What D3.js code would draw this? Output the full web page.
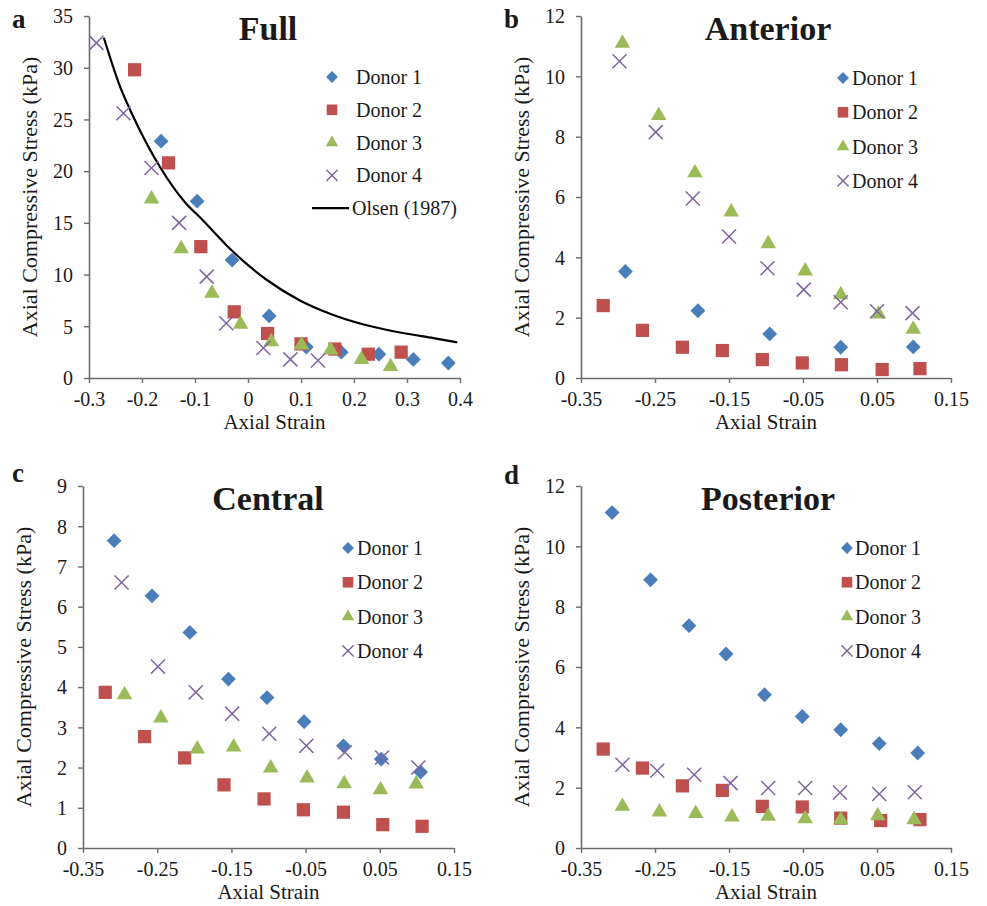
<!DOCTYPE html>
<html><head><meta charset="utf-8">
<script src="https://cdn.jsdelivr.net/npm/d3@7"></script>
<style>
html,body{margin:0;padding:0;background:#fff;}
svg{display:block;}
svg text{font-family:"Liberation Serif","Times New Roman",serif !important;fill:#1a1a1a;}
</style></head>
<body>
<svg id="chart" width="987" height="906"></svg>
<script>
// ---------- Data ----------
const seriesNames = ["Donor 1","Donor 2","Donor 3","Donor 4"];
const fullXTicks = [-0.3,-0.2,-0.1,0,0.1,0.2,0.3,0.4];
const fullYTicks = [0,5,10,15,20,25,30,35];
const regionXTicks = [-0.35,-0.25,-0.15,-0.05,0.05,0.15];
const anteriorYTicks = [0,2,4,6,8,10,12];
const centralYTicks = [0,1,2,3,4,5,6,7,8,9];
const posteriorYTicks = [0,2,4,6,8,10,12];

// Full
const fullDonor1 = [[-0.164,22.9],[-0.096,17.1],[-0.030,11.4],[0.040,6.0],[0.110,3.0],[0.176,2.5],[0.247,2.3],[0.312,1.8],[0.378,1.45]];
const fullDonor2 = [[-0.214,29.8],[-0.150,20.8],[-0.089,12.7],[-0.026,6.4],[0.037,4.3],[0.100,3.3],[0.164,2.8],[0.227,2.3],[0.289,2.5]];
const fullDonor3 = [[-0.182,17.3],[-0.126,12.5],[-0.068,8.2],[-0.014,5.2],[0.044,3.5],[0.101,3.2],[0.156,2.7],[0.214,1.8],[0.269,1.1]];
const fullDonor4 = [[-0.286,32.4],[-0.235,25.6],[-0.182,20.3],[-0.130,15.0],[-0.078,9.8],[-0.041,5.3],[0.029,2.9],[0.080,1.8],[0.132,1.7]];
const olsen1987 = [[-0.272,32.9],[-0.243,28.4],[-0.213,24.9],[-0.166,20.4],[-0.119,17.0],[-0.088,15.4],[-0.028,12.2],[0.035,9.5],[0.098,7.5],[0.161,6.1],[0.224,5.1],[0.287,4.4],[0.35,3.85],[0.395,3.45]];

// Anterior
const antDonor1 = [[-0.290,3.53],[-0.192,2.23],[-0.095,1.46],[0.001,1.02],[0.099,1.03]];
const antDonor2 = [[-0.320,2.40],[-0.267,1.58],[-0.213,1.02],[-0.159,0.91],[-0.105,0.61],[-0.051,0.50],[0.002,0.44],[0.057,0.28],[0.108,0.31]];
const antDonor3 = [[-0.294,11.1],[-0.245,8.7],[-0.196,6.8],[-0.147,5.5],[-0.097,4.45],[-0.047,3.55],[0.001,2.76],[0.052,2.12],[0.099,1.62]];
const antDonor4 = [[-0.298,10.5],[-0.249,8.15],[-0.199,5.95],[-0.150,4.69],[-0.098,3.64],[-0.049,2.93],[0.001,2.51],[0.050,2.21],[0.098,2.15]];

// Central
const cenDonor1 = [[-0.308,7.64],[-0.257,6.27],[-0.206,5.36],[-0.154,4.20],[-0.102,3.74],[-0.052,3.14],[0.001,2.54],[0.052,2.21],[0.105,1.89]];
const cenDonor2 = [[-0.320,3.87],[-0.267,2.77],[-0.213,2.24],[-0.160,1.57],[-0.106,1.22],[-0.053,0.95],[0.001,0.89],[0.054,0.58],[0.107,0.54]];
const cenDonor3 = [[-0.294,3.81],[-0.245,3.23],[-0.196,2.46],[-0.147,2.51],[-0.097,1.99],[-0.048,1.74],[0.002,1.60],[0.051,1.45],[0.099,1.59]];
const cenDonor4 = [[-0.298,6.60],[-0.249,4.51],[-0.198,3.87],[-0.149,3.34],[-0.099,2.84],[-0.049,2.54],[0.003,2.38],[0.053,2.25],[0.102,2.00]];

// Posterior
const posDonor1 = [[-0.308,11.12],[-0.256,8.89],[-0.204,7.37],[-0.154,6.43],[-0.102,5.08],[-0.051,4.36],[0.001,3.92],[0.053,3.46],[0.105,3.15]];
const posDonor2 = [[-0.320,3.28],[-0.267,2.65],[-0.213,2.06],[-0.159,1.91],[-0.105,1.38],[-0.051,1.36],[0.001,0.99],[0.055,0.91],[0.108,0.94]];
const posDonor3 = [[-0.294,1.38],[-0.244,1.19],[-0.195,1.14],[-0.146,1.03],[-0.097,1.05],[-0.047,0.97],[0.001,0.94],[0.051,1.07],[0.100,0.94]];
const posDonor4 = [[-0.294,2.76],[-0.247,2.56],[-0.197,2.43],[-0.148,2.15],[-0.097,1.99],[-0.047,1.99],[0.000,1.84],[0.053,1.79],[0.101,1.85]];

// ---------- Styles ----------
const colors = ["#4a7ebb","#c0504d","#9bbb59","#8064a2"];
const serif = '"Liberation Serif","Times New Roman",serif';
const svg = d3.select("#chart");

function marker(g, i, x, y, scale){
  const s = scale || 1;
  if(i===0){
    g.append("path").attr("d", d3.symbol(d3.symbolSquare, 110*s*s)())
      .attr("transform",`translate(${x},${y}) rotate(45)`).attr("fill",colors[0]);
  } else if(i===1){
    g.append("path").attr("d", d3.symbol(d3.symbolSquare, 175*s*s)())
      .attr("transform",`translate(${x},${y})`).attr("fill",colors[1]);
  } else if(i===2){
    g.append("path").attr("d", d3.symbol(d3.symbolTriangle, 105*s*s)())
      .attr("transform",`translate(${x},${y})`).attr("fill",colors[2]);
  } else {
    g.append("path").attr("d", d3.symbol(d3.symbolX, 130*s*s)())
      .attr("transform",`translate(${x},${y})`).attr("fill","none")
      .attr("stroke",colors[3]).attr("stroke-width",1.5);
  }
}

const hyph = f => d => f(d).replace("\u2212","-");

const panels = [
  {letter:"a", lx:12, ly:28, title:"Full", l:89, r:460, t:16, b:378,
   xDom:[-0.3,0.4], xTicks:fullXTicks, xFmt:d=>Math.abs(d)<1e-9?"0":d3.format(".1f")(d).replace("\u2212","-"),
   yDom:[0,35], yTicks:fullYTicks,
   series:[fullDonor1,fullDonor2,fullDonor3,fullDonor4], curve:olsen1987,
   leg:{mx:332, tx:356, y0:77, dy:32.8}},
  {letter:"b", lx:504, ly:28, title:"Anterior", l:581, r:951, t:16, b:378,
   xDom:[-0.35,0.15], xTicks:regionXTicks, xFmt:hyph(d3.format(".2f")),
   yDom:[0,12], yTicks:anteriorYTicks,
   series:[antDonor1,antDonor2,antDonor3,antDonor4],
   leg:{mx:843, tx:852, y0:78, dy:34.3}},
  {letter:"c", lx:12, ly:482, title:"Central", l:83, r:454, t:486, b:848,
   xDom:[-0.35,0.15], xTicks:regionXTicks, xFmt:hyph(d3.format(".2f")),
   yDom:[0,9], yTicks:centralYTicks,
   series:[cenDonor1,cenDonor2,cenDonor3,cenDonor4],
   leg:{mx:348, tx:357, y0:548, dy:34.3}},
  {letter:"d", lx:504, ly:484, title:"Posterior", l:581, r:951, t:486, b:848,
   xDom:[-0.35,0.15], xTicks:regionXTicks, xFmt:hyph(d3.format(".2f")),
   yDom:[0,12], yTicks:posteriorYTicks,
   series:[posDonor1,posDonor2,posDonor3,posDonor4],
   leg:{mx:847, tx:855, y0:548, dy:34.3}}
];

panels.forEach(p=>{
  const g = svg.append("g");
  const x = d3.scaleLinear().domain(p.xDom).range([p.l,p.r]);
  const y = d3.scaleLinear().domain(p.yDom).range([p.b,p.t]);

  // axes
  const xa = g.append("g").attr("transform",`translate(0,${p.b})`)
    .call(d3.axisBottom(x).tickValues(p.xTicks).tickFormat(p.xFmt).tickSize(5).tickPadding(9).tickSizeOuter(0));
  const ya = g.append("g").attr("transform",`translate(${p.l},0)`)
    .call(d3.axisLeft(y).tickValues(p.yTicks).tickSize(5).tickPadding(11).tickSizeOuter(0));
  [xa,ya].forEach(a=>{
    a.attr("font-family",serif).attr("font-size",20);
    a.select(".domain").attr("stroke","#6b6b6b").attr("stroke-width",1.6);
    a.selectAll(".tick line").attr("stroke","#6b6b6b").attr("stroke-width",1.4);
    a.selectAll(".tick text").attr("font-size",20).attr("fill","#2a2a2a")
      .style("font-family",serif);
  });
  ya.selectAll(".tick text").attr("dy","0.34em");

  // axis titles
  g.append("text").attr("x",(p.l+p.r)/2).attr("y",p.b+51)
    .attr("text-anchor","middle").attr("font-size",21).text("Axial Strain");
  g.append("text").attr("transform",`translate(${p.l-52},${(p.t+p.b)/2}) rotate(-90)`)
    .attr("text-anchor","middle").attr("font-size",22).text("Axial Compressive Stress (kPa)");

  // title & letter
  g.append("text").attr("x",p.letter==="a"||p.letter==="c"?268:768).attr("y",p.t+24)
    .attr("text-anchor","middle").attr("font-size",34).attr("font-weight","bold").text(p.title);
  g.append("text").attr("x",p.lx).attr("y",p.ly).attr("font-size",27)
    .attr("font-weight","bold").text(p.letter);

  // curve
  if(p.curve){
    g.append("path").datum(p.curve)
      .attr("d", d3.line().x(d=>x(d[0])).y(d=>y(d[1])).curve(d3.curveMonotoneX))
      .attr("fill","none").attr("stroke","#000").attr("stroke-width",2.2);
  }

  // points
  p.series.forEach((s,i)=>{
    const sg = g.append("g");
    s.forEach(d=>marker(sg,i,x(d[0]),y(d[1])));
  });

  // legend
  const lg = g.append("g");
  seriesNames.forEach((n,i)=>{
    const yy = p.leg.y0 + i*p.leg.dy;
    marker(lg,i,p.leg.mx,yy,0.8);
    lg.append("text").attr("x",p.leg.tx).attr("y",yy).attr("dy","0.35em")
      .attr("font-size",20).text(n);
  });
  if(p.curve){
    const yy = p.leg.y0 + 4*p.leg.dy;
    lg.append("line").attr("x1",312).attr("x2",349).attr("y1",yy).attr("y2",yy)
      .attr("stroke","#000").attr("stroke-width",2.2);
    lg.append("text").attr("x",352).attr("y",yy).attr("dy","0.35em")
      .attr("font-size",20).text("Olsen (1987)");
  }
});
</script>
</body></html>
